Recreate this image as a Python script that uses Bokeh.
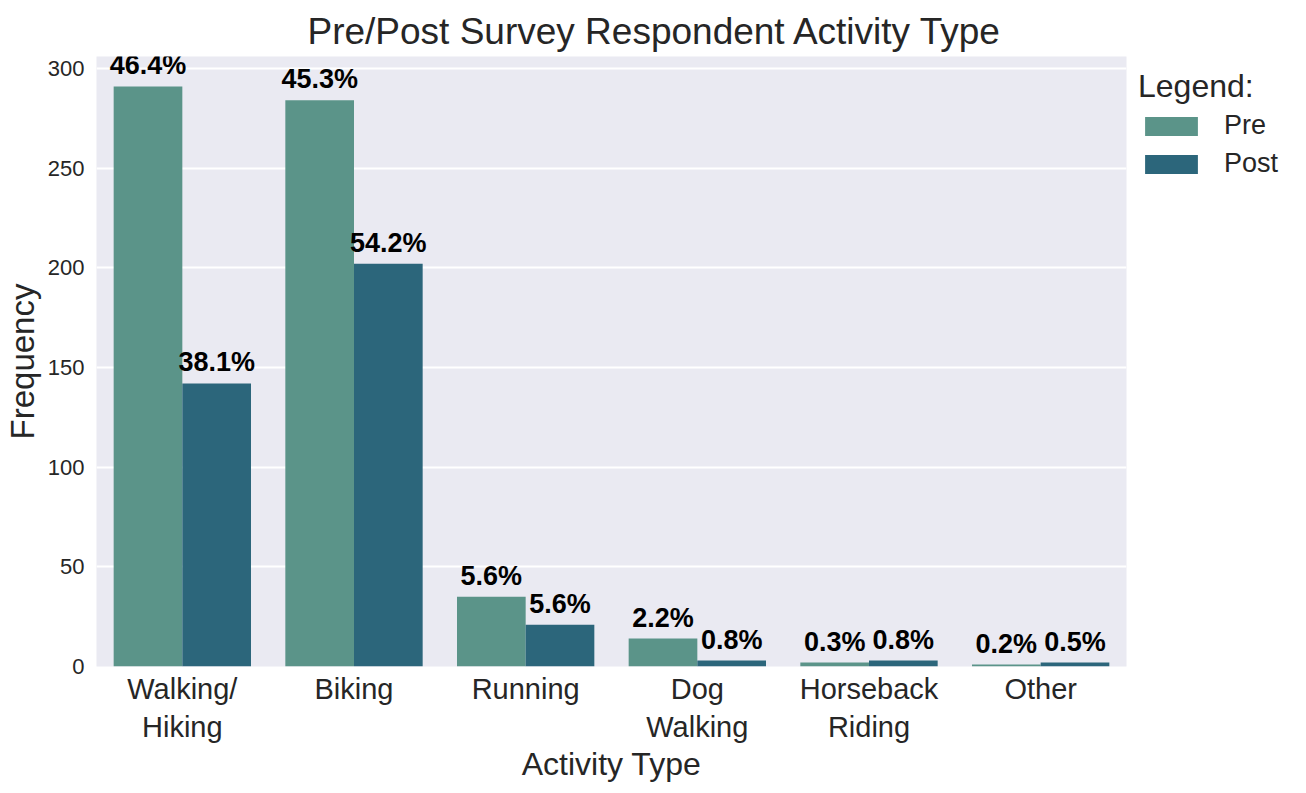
from bokeh.plotting import figure
from bokeh.models import ColumnDataSource, FactorRange, Range1d, Legend, LegendItem, Title
from bokeh.transform import dodge
from bokeh.core.properties import value
from bokeh.embed import file_html
from bokeh.resources import INLINE

categories = ["Walking/\nHiking", "Biking", "Running", "Dog\nWalking", "Horseback\nRiding", "Other"]
pre_counts = [291, 284, 35, 14, 2, 1]
post_counts = [142, 202, 21, 3, 3, 2]
pre_labels = ["46.4%", "45.3%", "5.6%", "2.2%", "0.3%", "0.2%"]
post_labels = ["38.1%", "54.2%", "5.6%", "0.8%", "0.8%", "0.5%"]
y_ticks = [0, 50, 100, 150, 200, 250, 300]

PRE_COLOR = "#5b9489"
POST_COLOR = "#2c667b"
FONT = "Liberation Sans"
TXT = "#262626"

src = ColumnDataSource(dict(cat=categories, pre=pre_counts, post=post_counts,
                            pre_lbl=pre_labels, post_lbl=post_labels))

p = figure(x_range=FactorRange(*categories, range_padding=0), y_range=Range1d(0, 306),
           frame_width=1030, frame_height=610, output_backend="svg", toolbar_location=None,
           min_border_left=88, min_border_right=172, min_border_top=56, min_border_bottom=90)

p.background_fill_color = "#eaeaf2"
p.border_fill_color = "white"
p.outline_line_color = None

r_pre = p.vbar(x=dodge("cat", -0.2, range=p.x_range), top="pre", width=0.4, source=src,
               fill_color=PRE_COLOR, line_color=None)
r_post = p.vbar(x=dodge("cat", 0.2, range=p.x_range), top="post", width=0.4, source=src,
                fill_color=POST_COLOR, line_color=None)

for off, col in [(-0.2, "pre"), (0.2, "post")]:
    p.text(x=dodge("cat", off, range=p.x_range), y=col, text=col + "_lbl", source=src,
           text_align="center", text_baseline="bottom", y_offset=-6,
           text_font=value(FONT), text_font_size="27px", text_font_style="bold",
           text_color="black")

p.title = Title(text="Pre/Post Survey Respondent Activity Type", align="left",
                text_font=FONT, text_font_size="37px", text_font_style="normal",
                text_color=TXT, offset=211)

p.xgrid.grid_line_color = None
p.ygrid.grid_line_color = "white"
p.ygrid.grid_line_width = 2
p.yaxis.ticker = y_ticks

for ax in (p.xaxis[0], p.yaxis[0]):
    ax.axis_line_color = None
    ax.major_tick_line_color = None
    ax.minor_tick_line_color = None
    ax.major_label_text_font = FONT
    ax.major_label_text_color = TXT
    ax.axis_label_text_font = FONT
    ax.axis_label_text_font_style = "normal"
    ax.axis_label_text_color = TXT

p.xaxis.axis_label = "Activity Type"
p.yaxis.axis_label = "Frequency"
p.xaxis.axis_label_text_font_size = "32px"
p.yaxis.axis_label_text_font_size = "33px"
p.xaxis.major_label_text_font_size = "29px"
p.yaxis.major_label_text_font_size = "22px"
p.xaxis.major_label_standoff = 0
p.xaxis.axis_label_standoff = 0
p.yaxis.major_label_standoff = 6
p.yaxis.axis_label_standoff = 4

legend = Legend(items=[LegendItem(label="Pre", renderers=[r_pre]),
                       LegendItem(label="Post", renderers=[r_post])],
                title="Legend:", title_text_font=FONT, title_text_font_size="32px",
                title_text_font_style="normal", title_text_color=TXT,
                label_text_font=FONT, label_text_font_size="27px", label_text_color=TXT,
                glyph_width=66, glyph_height=24, label_standoff=20, spacing=7,
                border_line_color=None, background_fill_alpha=0, location="top_left",
                margin=12, padding=10)
p.add_layout(legend, "right")

open("out.html", "w").write(file_html(p, INLINE))
